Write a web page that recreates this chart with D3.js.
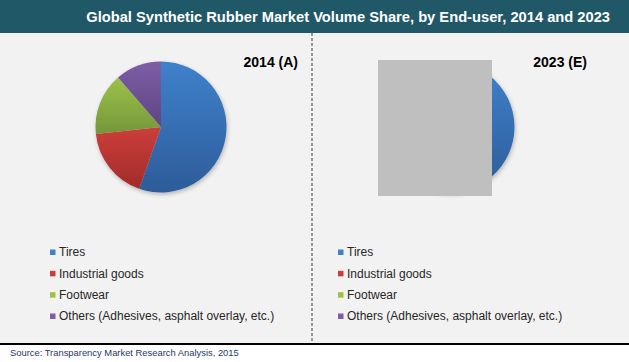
<!DOCTYPE html>
<meta charset="utf-8">
<style>
body { margin: 0; background: #fff; }
svg { display: block; font-family: "Liberation Sans", Arial, sans-serif; }
.legend text { font-size: 12px; fill: #262626; }
</style>
<svg width="629" height="362"></svg>
<script src="https://d3js.org/d3.v7.min.js"></script>
<script>

var categories = ["Tires", "Industrial goods", "Footwear", "Others (Adhesives, asphalt overlay, etc.)"];
var share2014 = [55.4, 17.9, 15.3, 11.4];
var share2023 = [56.5, 17.5, 15.0, 11.0];
var colorsTop = ["#3f81cc", "#cc3e3b", "#9dc24a", "#7e5ea6"];
var colorsBottom = ["#2d5c99", "#a12c2a", "#75963a", "#5e4682"];

var svg = d3.select("svg"),
    width = +svg.attr("width"),
    height = +svg.attr("height");

var defs = svg.append("defs");
categories.forEach(function(c, i) {
  var g = defs.append("linearGradient")
    .attr("id", "grad" + i)
    .attr("x1", 0).attr("y1", 0).attr("x2", 0).attr("y2", 1);
  g.append("stop").attr("offset", "0%").attr("stop-color", colorsTop[i]);
  g.append("stop").attr("offset", "100%").attr("stop-color", colorsBottom[i]);
});
var shadow = defs.append("filter").attr("id", "shadow")
  .attr("x", "-20%").attr("y", "-20%").attr("width", "140%").attr("height", "140%");
shadow.append("feDropShadow")
  .attr("dx", 1).attr("dy", 2).attr("stdDeviation", 2)
  .attr("flood-color", "#000").attr("flood-opacity", 0.25);

// backgrounds
svg.append("rect").attr("width", width).attr("height", height).attr("fill", "#fff");
svg.append("rect").attr("y", 33).attr("width", width).attr("height", 310).attr("fill", "#f2f2f2");
svg.append("rect").attr("width", width).attr("height", 33).attr("fill", "#215867");

svg.append("text")
  .attr("x", 610).attr("y", 22)
  .attr("text-anchor", "end")
  .attr("fill", "#fff")
  .style("font-size", "14.7px")
  .style("font-weight", "bold")
  .text("Global Synthetic Rubber Market Volume Share, by End-user, 2014 and 2023");

// divider
svg.append("line")
  .attr("x1", 312).attr("x2", 312).attr("y1", 33).attr("y2", 343)
  .attr("stroke", "#595959").attr("stroke-width", 1.2)
  .attr("stroke-dasharray", "3,2");

// bottom rule + source
svg.append("line")
  .attr("x1", 0).attr("x2", width).attr("y1", 344).attr("y2", 344)
  .attr("stroke", "#000").attr("stroke-width", 2);
svg.append("text")
  .attr("x", 10).attr("y", 356)
  .attr("fill", "#1f3864")
  .style("font-size", "9.4px")
  .text("Source: Transparency Market Research Analysis, 2015");

var pie = d3.pie().sort(null).value(function(d) { return d; });
var arc = d3.arc().innerRadius(0).outerRadius(65.5);

function drawPie(values, cx, cy, label, lx) {
  var g = svg.append("g")
    .attr("transform", "translate(" + cx + "," + cy + ")")
    .attr("filter", "url(#shadow)");
  g.selectAll("path")
    .data(pie(values))
    .enter().append("path")
    .attr("d", arc)
    .attr("fill", function(d, i) { return "url(#grad" + i + ")"; });
  svg.append("text")
    .attr("x", lx).attr("y", 67)
    .attr("text-anchor", "end")
    .attr("fill", "#000")
    .style("font-size", "14px")
    .style("font-weight", "bold")
    .text(label);
}

drawPie(share2014, 161, 127, "2014 (A)", 298);
drawPie(share2023, 449, 127, "2023 (E)", 587);

// grey box covering 2023 pie
svg.append("rect")
  .attr("x", 378).attr("y", 60).attr("width", 114).attr("height", 136)
  .attr("fill", "#bfbfbf");

function drawLegend(x) {
  var lg = svg.append("g").attr("class", "legend")
    .attr("transform", "translate(" + x + ",0)");
  var y = d3.scalePoint().domain(categories).range([252, 316]);
  var item = lg.selectAll("g").data(categories).enter().append("g")
    .attr("transform", function(d) { return "translate(0," + y(d) + ")"; });
  item.append("rect")
    .attr("x", 0).attr("y", -2.5).attr("width", 5.5).attr("height", 5.5)
    .attr("fill", function(d, i) { return colorsTop[i]; });
  item.append("text")
    .attr("x", 9).attr("dy", "0.35em")
    .text(function(d) { return d; });
}
drawLegend(50);
drawLegend(338);

</script>
